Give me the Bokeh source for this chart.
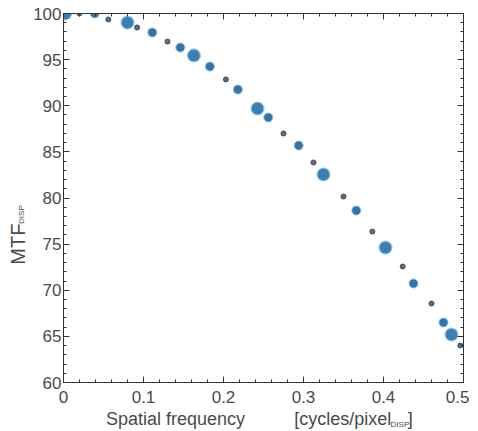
from bokeh.plotting import figure
from bokeh.models import LinearAxis, FixedTicker
from bokeh.embed import file_html
from bokeh.resources import INLINE

# Data (spatial frequency in cycles/pixel, MTF in %)
big_freq = [0.002, 0.080, 0.163, 0.2425, 0.325, 0.4025, 0.485]
big_mtf = [100.0, 99.02, 95.45, 89.70, 82.55, 74.63, 65.20]

mid_freq = [0.039, 0.111, 0.146, 0.183, 0.218, 0.256, 0.294, 0.366, 0.4375, 0.475]
mid_mtf = [100.0, 97.94, 96.31, 94.25, 91.76, 88.73, 85.69, 78.64, 70.73, 66.50]

small_freq = [0.020, 0.056, 0.092, 0.130, 0.203, 0.275, 0.3125, 0.350, 0.386, 0.424, 0.460, 0.496]
small_mtf = [100.0, 99.35, 98.48, 96.96, 92.85, 86.99, 83.85, 80.16, 76.36, 72.57, 68.56, 64.01]

x_ticks = [0, 0.1, 0.2, 0.3, 0.4, 0.5]
x_tick_labels = {0: "0", 0.1: "0.1", 0.2: "0.2", 0.3: "0.3", 0.4: "0.4", 0.5: "0.5"}
y_ticks = [60, 65, 70, 75, 80, 85, 90, 95, 100]

x_title = "Spatial frequency"
x_unit = "[cycles/pixel"
x_unit_sub = "DISP"
x_unit_end = "]"
y_title = "MTF"
y_title_sub = "DISP"

FONT = "Liberation Sans"
AX = "#333333"
TXT = "#4a4a4a"

p = figure(frame_width=400, frame_height=369, x_range=(0, 0.5), y_range=(60, 100),
           output_backend="svg", toolbar_location=None,
           min_border_left=63, min_border_right=6, min_border_top=13,
           min_border_bottom=46)
p.xgrid.visible = False
p.ygrid.visible = False
p.outline_line_color = AX
p.background_fill_color = None
p.border_fill_color = "white"

x_minor = [round(i * 0.02, 2) for i in range(26)]
y_minor = list(range(60, 101))


def style(ax, labels=True):
    ax.level = "overlay"
    ax.axis_line_color = AX
    ax.major_tick_line_color = AX
    ax.minor_tick_line_color = AX
    ax.major_tick_in = 6
    ax.major_tick_out = 0
    ax.minor_tick_in = 3
    ax.minor_tick_out = 0
    ax.major_label_text_font = FONT
    ax.major_label_text_font_size = "17px"
    ax.major_label_text_color = TXT
    if not labels:
        ax.major_label_text_font_size = "0px"
        ax.major_label_text_alpha = 0
        ax.major_label_standoff = 0


p.xaxis.ticker = FixedTicker(ticks=x_ticks, minor_ticks=x_minor)
p.xaxis.major_label_overrides = x_tick_labels
p.yaxis.ticker = FixedTicker(ticks=y_ticks, minor_ticks=y_minor)
style(p.xaxis[0])
style(p.yaxis[0])
p.xaxis.major_label_standoff = 8
p.yaxis.major_label_standoff = 2

top = LinearAxis(ticker=FixedTicker(ticks=x_ticks, minor_ticks=x_minor))
style(top, labels=False)
p.add_layout(top, "above")
right = LinearAxis(ticker=FixedTicker(ticks=y_ticks, minor_ticks=y_minor))
style(right, labels=False)
p.add_layout(right, "right")


def text_axis(side, positions, texts, size, standoff, orientation="horizontal"):
    ax = LinearAxis(ticker=FixedTicker(ticks=positions, minor_ticks=[]),
                    major_label_overrides=dict(zip(positions, texts)))
    ax.axis_line_color = None
    ax.major_tick_line_color = None
    ax.minor_tick_line_color = None
    ax.major_tick_in = 0
    ax.major_tick_out = 0
    ax.major_label_text_font = FONT
    ax.major_label_text_font_size = size
    ax.major_label_text_color = TXT
    ax.major_label_standoff = standoff
    ax.major_label_orientation = orientation
    p.add_layout(ax, side)
    return ax


# axis titles carried as labels of tick-less axes (text positions in data units)
text_axis("below", [0.14, 0.349, 0.4335], [x_title, x_unit, x_unit_end], "18px", 3)
text_axis("below", [0.4205], [x_unit_sub], "8px", -12)
text_axis("left", [78.2], [y_title_sub], "8px", 4, "parallel")
text_axis("left", [75.0], [y_title], "20px", -14, "parallel")

p.scatter(small_freq, small_mtf, size=5, fill_color="#4c5e70", line_color="#3c4c5c",
          fill_alpha=0.9)
p.scatter(mid_freq, mid_mtf, size=9, fill_color="#2f6c9c", line_color="#8fbde0",
          fill_alpha=0.95, line_width=1)
p.scatter(big_freq, big_mtf, size=13, fill_color="#3478ae", line_color="#9cc8ea",
          fill_alpha=0.95, line_width=1.2)

open("out.html", "w").write(file_html(p, INLINE))
